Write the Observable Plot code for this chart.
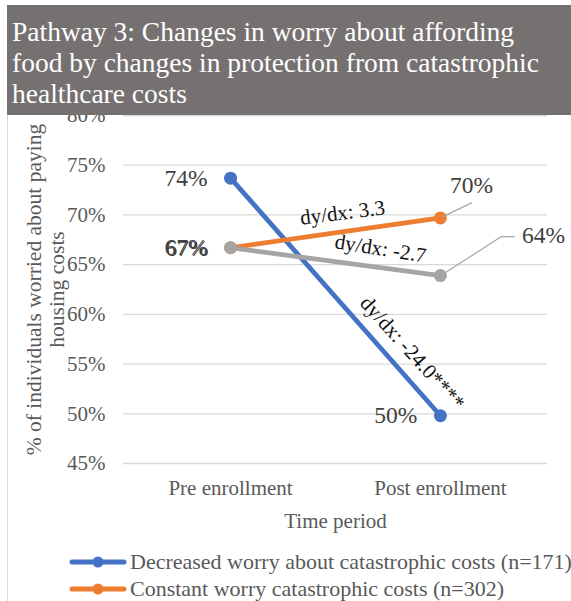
<!DOCTYPE html>
<html><head><meta charset="utf-8">
<script src="https://cdn.jsdelivr.net/npm/d3@7"></script>
<script src="https://cdn.jsdelivr.net/npm/@observablehq/plot@0.6"></script>
<style>
body{margin:0;background:#fff;}
#wrap{position:relative;width:571px;height:601px;overflow:hidden;font-family:"Liberation Serif",serif;background:#fff;}
#border{position:absolute;left:7px;top:5px;bottom:0;width:1px;background:#d9d9d9;}
#title{position:absolute;left:7px;top:5px;width:564px;height:110px;background:#767171;color:#fff;font-family:"Liberation Serif",serif;font-size:27.5px;line-height:31px;padding:11px 0 0 5px;box-sizing:border-box;z-index:2;}
#chart{position:absolute;left:0;top:0;}
#legend{position:absolute;left:68px;top:549px;font-family:"Liberation Serif",serif;font-size:22px;color:#595959;line-height:26.5px;}
.row{display:flex;align-items:center;white-space:nowrap;}
.row svg{margin-right:2px;}
</style></head>
<body>
<div id="wrap">
  <div id="border"></div>
  <div id="chart"></div>
  <div id="title"></div>
  <div id="legend"></div>
</div>
<script>
const titleText = "Pathway 3: Changes in worry about affording food by changes in protection from catastrophic healthcare costs";
const periods = ["Pre enrollment", "Post enrollment"];
const seriesKeys = ["decreased", "constant", "other"];
const legendNames = ["Decreased worry about catastrophic costs (n=171)", "Constant worry catastrophic costs (n=302)"];
const seriesColors = ["#4472c4", "#ed7d31", "#a5a5a5"];
const preValues = [73.7, 66.7, 66.7];
const postValues = [49.8, 69.7, 63.9];
const slopeLabels = ["dy/dx: -24.0****", "dy/dx: 3.3", "dy/dx: -2.7"];
const yTicks = [45, 50, 55, 60, 65, 70, 75, 80];
const yLabel = "% of individuals worried about paying\nhousing costs";
const xLabel = "Time period";

document.getElementById("title").textContent = titleText;

const points = [];
seriesKeys.forEach((s, i) => {
  points.push({s, t: 0, v: preValues[i]});
  points.push({s, t: 1, v: postValues[i]});
});
const slopes = seriesKeys.map((s, i) => ({s, label: slopeLabels[i], t: 0.5, v: (preValues[i] + postValues[i]) / 2}));
const pct = d => Math.round(d.v) + "%";
const P = (s, t) => points.filter(d => d.s === s && d.t === t);
const S = s => slopes.filter(d => d.s === s);

const font = '"Liberation Serif", serif';
const labelFill = "#404040";
const lab = {x: "t", y: "v", text: pct, fontSize: 23.5, fill: labelFill, fontFamily: font};
const slopeStyle = {x: "t", y: "v", text: "label", fontSize: 21, fill: "#111", fontFamily: font};

const leaderOrange = {draw(ctx) { ctx.moveTo(2, -1); ctx.lineTo(31, -15); }};
const leaderGray = {draw(ctx) { ctx.moveTo(2, -1); ctx.lineTo(61, -39); ctx.lineTo(74, -39); }};

const chart = Plot.plot({
  width: 571,
  height: 540,
  marginTop: 115,
  marginBottom: 77,
  marginLeft: 123,
  marginRight: 24,
  style: {fontFamily: font, background: "transparent", overflow: "visible"},
  x: {type: "linear", domain: [-0.51, 1.51]},
  y: {domain: [45, 80]},
  color: {domain: seriesKeys, range: seriesColors},
  marks: [
    Plot.ruleY(yTicks, {stroke: "#d9d9d9", strokeWidth: 1.3}),
    Plot.axisY({ticks: yTicks, tickSize: 0, tickPadding: 18, tickFormat: d => d + "%", fontSize: 21, fill: "#595959", fontFamily: font, label: null}),
    Plot.axisX({ticks: [0, 1], tickSize: 0, tickPadding: 17, tickFormat: i => periods[i], fontSize: 21, fill: "#595959", fontFamily: font, label: null}),
    Plot.text([xLabel], {frameAnchor: "bottom", lineAnchor: "middle", dy: 58, fontSize: 21, fill: "#595959", fontFamily: font}),
    Plot.text([yLabel], {frameAnchor: "left", textAnchor: "middle", lineAnchor: "middle", dx: -78.5, rotate: -90, fontSize: 21.5, lineHeight: 1.07, fill: "#595959", fontFamily: font}),
    Plot.line(points, {x: "t", y: "v", z: "s", stroke: "s", strokeWidth: 4.75}),
    Plot.dot(points, {x: "t", y: "v", fill: "s", r: 6.5}),
    Plot.vector(P("constant", 1), {x: "t", y: "v", length: 1, rotate: 0, anchor: "start", shape: leaderOrange, stroke: "#a6a6a6", strokeWidth: 1.2}),
    Plot.vector(P("other", 1), {x: "t", y: "v", length: 1, rotate: 0, anchor: "start", shape: leaderGray, stroke: "#a6a6a6", strokeWidth: 1.2}),
    Plot.text(P("decreased", 0), {...lab, textAnchor: "end", dx: -23}),
    Plot.text(P("constant", 0), {...lab, textAnchor: "end", dx: -22, dy: 1}),
    Plot.text(P("other", 0), {...lab, textAnchor: "end", dx: -23}),
    Plot.text(P("decreased", 1), {...lab, textAnchor: "end", dx: -23}),
    Plot.text(P("constant", 1), {...lab, dx: 31, dy: -32}),
    Plot.text(P("other", 1), {...lab, dx: 103, dy: -40}),
    Plot.text(S("constant"), {...slopeStyle, rotate: -7, dx: 7, dy: -20}),
    Plot.text(S("other"), {...slopeStyle, rotate: 9, dx: 45, dy: -13}),
    Plot.text(S("decreased"), {...slopeStyle, rotate: 48, dx: 77, dy: 56})
  ]
});
document.getElementById("chart").appendChild(chart);

const legend = document.getElementById("legend");
legendNames.forEach((name, i) => {
  const row = document.createElement("div");
  row.className = "row";
  row.innerHTML = `<svg width="60" height="14"><line x1="4" y1="7" x2="56" y2="7" stroke="${seriesColors[i]}" stroke-width="5" stroke-linecap="round"/><circle cx="30" cy="7" r="5.5" fill="${seriesColors[i]}"/></svg><span></span>`;
  row.querySelector("span").textContent = name;
  legend.appendChild(row);
});
</script>
</body></html>
